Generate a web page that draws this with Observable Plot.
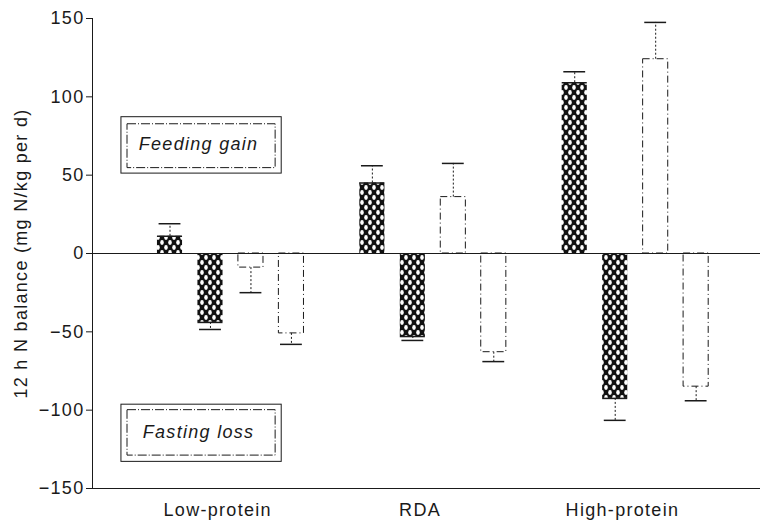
<!DOCTYPE html>
<html>
<head>
<meta charset="utf-8">
<script src="https://cdn.jsdelivr.net/npm/d3@7"></script>
<script src="https://cdn.jsdelivr.net/npm/@observablehq/plot@0.6"></script>
<style>
  body { margin: 0; background: #fff; }
  #chart svg { font-family: "Liberation Sans", Arial, sans-serif; }
</style>
</head>
<body>
<div id="chart"></div>
<script>
// ---- data ----
const groups = ["Low-protein", "RDA", "High-protein"];
const series = ["Hatched: feeding", "Hatched: fasting", "Open: feeding", "Open: fasting"];
const lowProtein  = [11, -44, -9, -51];
const rda         = [45, -53, 36, -63];
const highProtein = [109, -92.5, 124, -85];
const lowProteinErr  = [19, -48.5, -25, -58];
const rdaErr         = [56, -55.5, 57.5, -69];
const highProteinErr = [116, -106.5, 147.5, -94];
const yTicks = [-150, -100, -50, 0, 50, 100, 150];
const yLabel = "12 h N balance (mg N/kg per d)";
const notes = ["Feeding gain", "Fasting loss"];
const noteCenterY = [69.5, -114];
const noteOuterY = [[51, 87], [-133, -96.5]];
const noteInnerY = [[54.5, 82.5], [-129, -100]];
const noteOuterX = [-1.2, 2.76];
const noteInnerX = [-1.05, 2.61];

// ---- table ----
const values = [lowProtein, rda, highProtein];
const errs = [lowProteinErr, rdaErr, highProteinErr];
const rows = [];
groups.forEach((g, gi) => series.forEach((s, si) => {
  rows.push({group: g, series: s, kind: si < 2 ? "hatched" : "open",
             pos: gi * 5 + si, value: values[gi][si], err: errs[gi][si]});
}));
const half = 0.31, capHalf = 0.27;
const hatched = rows.filter(d => d.kind === "hatched");
const open = rows.filter(d => d.kind === "open");
const groupPos = groups.map((g, gi) => gi * 5 + 1.5);
const xDomain = [-1.915, 14.59];

const boxes = notes.map((n, i) => ({note: n, cy: noteCenterY[i],
  oy1: noteOuterY[i][0], oy2: noteOuterY[i][1], iy1: noteInnerY[i][0], iy2: noteInnerY[i][1]}));

const HATCH = "#010203";
const ink = "#1a1a1a";

const chart = Plot.plot({
  width: 766,
  height: 521,
  marginLeft: 92,
  marginRight: 6,
  marginTop: 18,
  marginBottom: 33,
  style: {fontFamily: "'Liberation Sans', Arial, sans-serif", fontSize: "18px", color: ink, letterSpacing: "1.3px", background: "#fff"},
  x: {type: "linear", domain: xDomain, axis: null},
  y: {domain: [-150, 150], axis: null},
  marks: [
    // annotation boxes
    Plot.rect(boxes, {x1: noteOuterX[0], x2: noteOuterX[1], y1: "oy1", y2: "oy2", fill: "none", stroke: ink, strokeWidth: 1}),
    Plot.rect(boxes, {x1: noteInnerX[0], x2: noteInnerX[1], y1: "iy1", y2: "iy2", fill: "none", stroke: ink, strokeWidth: 1, strokeDasharray: "9,2,1,2"}),
    Plot.text(boxes, {x: (noteOuterX[0] + noteOuterX[1]) / 2, y: "cy", dx: -3, text: "note", fontStyle: "italic", fontSize: 18, fill: ink}),
    // open bars
    Plot.rect(open, {x1: d => d.pos - half, x2: d => d.pos + half, y1: 0, y2: "value", fill: "white", stroke: ink, strokeWidth: 1, strokeDasharray: "7,3,1,3"}),
    // hatched bars
    Plot.rect(hatched, {x1: d => d.pos - half, x2: d => d.pos + half, y1: 0, y2: "value", fill: HATCH}),
    Plot.ruleY(hatched, {x1: d => d.pos - half, x2: d => d.pos + half, y: "value", stroke: ink, strokeWidth: 1.5}),
    // error bars
    Plot.ruleX(rows, {x: "pos", y1: "value", y2: "err", stroke: ink, strokeWidth: 1, strokeDasharray: "2,2"}),
    Plot.ruleY(rows, {x1: d => d.pos - capHalf, x2: d => d.pos + capHalf, y: "err", stroke: ink, strokeWidth: 1.5}),
    // zero line
    Plot.ruleY([0], {stroke: ink, strokeWidth: 1.2}),
    // axes lines
    Plot.ruleX([xDomain[0]], {stroke: ink, strokeWidth: 1}),
    Plot.ruleY([-150], {stroke: ink, strokeWidth: 1}),
    Plot.axisY({ticks: yTicks, tickSize: 6, tickPadding: 2, fontSize: 18, label: null, tickFormat: d => d < 0 ? "\u2212" + Math.abs(d) : String(d)}),
    Plot.axisX({ticks: groupPos, tickSize: 0, tickPadding: 15, fontSize: 18, dx: -13, label: null, tickFormat: (d, i) => groups[i]}),
    Plot.text([yLabel], {frameAnchor: "left", textAnchor: "middle", text: d => d, rotate: -90, dx: -71, fontSize: 18, fill: ink})
  ]
});

d3.select(chart).insert("defs", ":first-child").html(`
  <pattern id="chain" patternUnits="userSpaceOnUse" width="8" height="10">
    <rect width="8" height="10" fill="#111"/>
    <ellipse cx="2" cy="2.5" rx="1.8" ry="2.4" fill="#fff"/>
    <ellipse cx="6" cy="7.5" rx="1.8" ry="2.4" fill="#fff"/>
  </pattern>`);
d3.select(chart).selectAll(`[fill="${HATCH}"]`).attr("fill", "url(#chain)");

document.getElementById("chart").appendChild(chart);
</script>
</body>
</html>
